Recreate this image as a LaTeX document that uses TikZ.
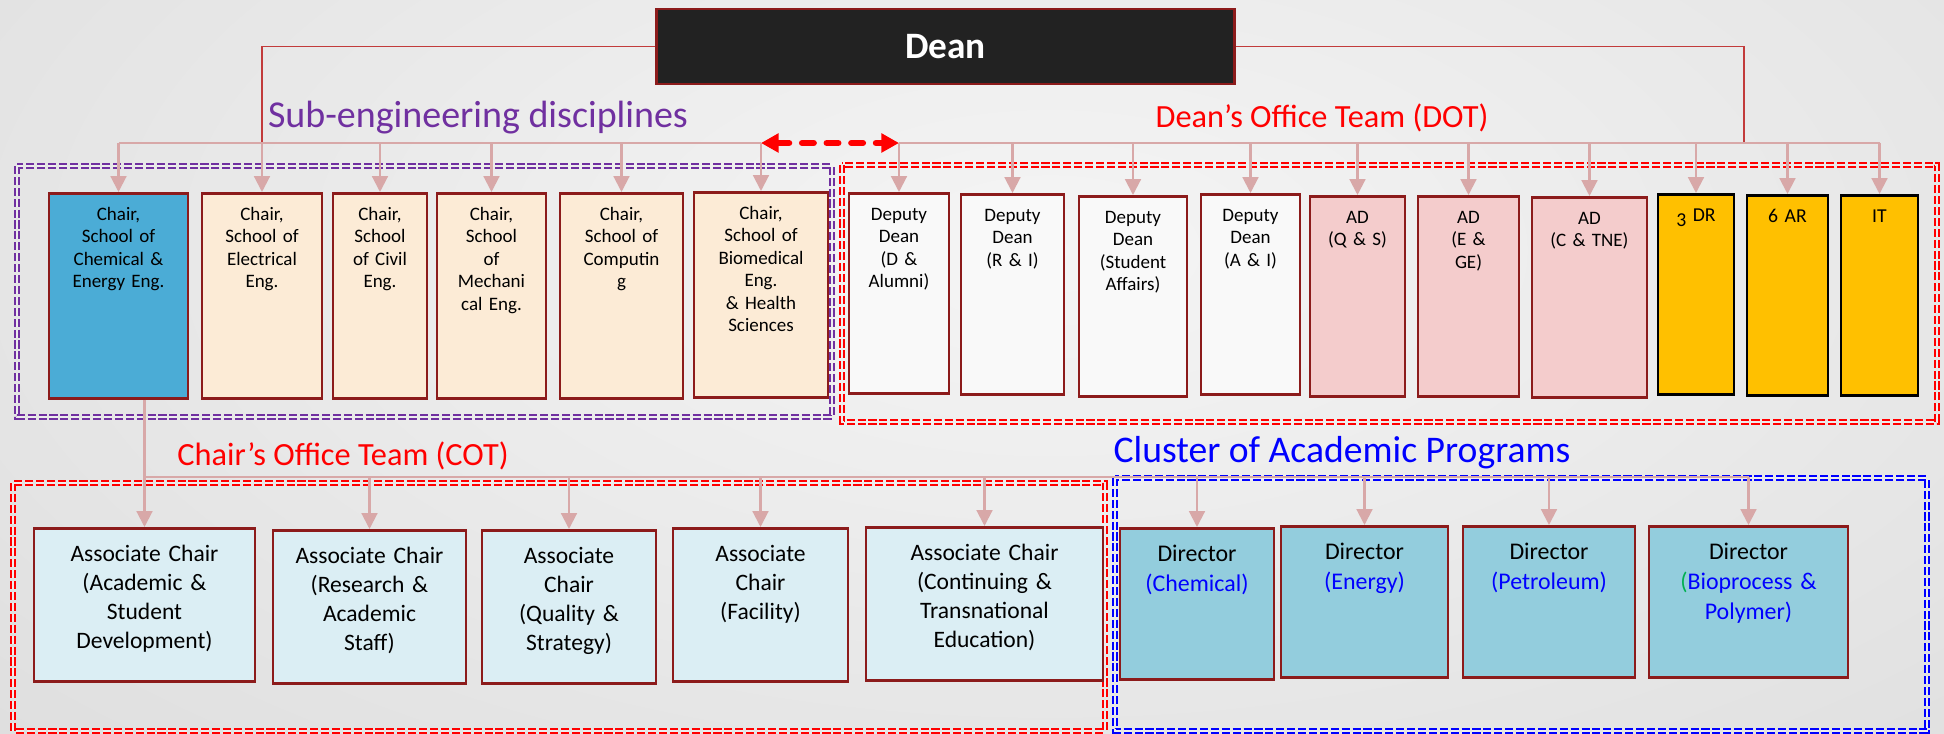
\documentclass[tikz,border=0pt]{standalone}
\usepackage{fontspec}
\setmainfont{Carlito}
\usetikzlibrary{arrows.meta}
\usetikzlibrary{positioning}

\definecolor{boxred}{HTML}{8C1B1B}
\definecolor{deanred}{HTML}{C23B3B}
\definecolor{deanblack}{HTML}{222222}
\definecolor{linkpink}{HTML}{D8A8A8}
\definecolor{chemblue}{HTML}{4BACD6}
\definecolor{cream}{HTML}{FCEBD6}
\definecolor{ddwhite}{HTML}{F9F9F9}
\definecolor{adpink}{HTML}{F4CCCC}
\definecolor{staffgold}{HTML}{FFC000}
\definecolor{acblue}{HTML}{DBEEF4}
\definecolor{dirblue}{HTML}{93CDDD}
\definecolor{grppurple}{HTML}{7030A0}
\definecolor{progblue}{HTML}{0000FF}
\definecolor{parengreen}{HTML}{00B050}

\begin{document}
\begin{tikzpicture}[
    x=0.01cm, y=-0.01cm,
    font=\fontsize{5.4}{6.4}\selectfont
]
\tikzset{
    bw/.style = {minimum width=#1, text width=#1},
    chairbox/.style = {draw=boxred, line width=0.8pt, anchor=north, inner sep=0pt, align=center, text height=0.27cm, text depth=1.78cm},
    dotbox/.style = {chairbox, text depth=1.73cm},
    staffbox/.style = {dotbox, draw=black, fill=staffgold, font=\fontsize{5.6}{6.6}\selectfont},
    acbox/.style = {chairbox, fill=acblue, text height=0.33cm, text depth=1.2cm, font=\fontsize{6.7}{8.3}\selectfont},
    dirbox/.style = {acbox, fill=dirblue, text depth=1.18cm, font=\fontsize{6.8}{8.5}\selectfont},
    busline/.style = {linkpink, line width=0.6pt},
    busarrow/.style = {busline, -{Triangle[length=4.5pt,width=4.5pt]}},
    deanline/.style = {deanred, line width=0.45pt},
    linkarrow/.style = {red, line width=1.8pt, dash pattern=on 3.3pt off 3.7pt, line cap=round, {Triangle[length=5pt,width=5.2pt]}-{Triangle[length=5pt,width=5.2pt]}},
    grpbox/.style = {draw=#1, line width=0.62pt, double=white!93!black, double distance=0.4pt, dash pattern=on 2.3pt off 0.8pt},
    grptitle/.style = {anchor=base, inner sep=0pt}
}
% background
\begin{scope}
\clip (0,0) rectangle (1944,734);
\shade[inner color=black!4, outer color=black!13] (-450,-500) rectangle (2550,1000);
\end{scope}
\useasboundingbox (0,0) rectangle (1944,734);

% group frames
\draw[grpbox=grppurple] (17,166) rectangle (832,417);
\draw[grpbox=red] (842,165) rectangle (1937,422);
\draw[grpbox=red] (13,483) rectangle (1105,731);
\draw[grpbox=progblue] (1115,478) rectangle (1927,731);

\node[grptitle, text=grppurple, font=\fontsize{10.8}{13}\selectfont] at (478,128) (subtitle) {Sub-engineering disciplines};
\node[grptitle, text=red, font=\fontsize{9.2}{11}\selectfont] at (1322,128) (dottitle) {Dean’s Office Team (DOT)};
\node[grptitle, text=red, font=\fontsize{9.2}{11}\selectfont] at (343,466) (cottitle) {Chair’s Office Team (COT)};
\node[grptitle, text=progblue, font=\fontsize{10.7}{13}\selectfont] at (1342,463) (clustitle) {Cluster of Academic Programs};

% dean
\node[draw=boxred, line width=0.8pt, fill=deanblack, text=white, minimum width=5.77cm, minimum height=0.75cm, font=\fontsize{10.6}{12}\selectfont\bfseries] at (945.5,46.5) (dean) {Dean};

% schools
\node[chairbox, bw=1.39cm, fill=chemblue] at (118.5,192) (chem) {Chair,\\ School of\\ Chemical \&\\ Energy Eng.};
\node[chairbox, bw=1.20cm, fill=cream] at (262,192) (elec) {Chair,\\ School of\\ Electrical\\ Eng.};
\node[chairbox, bw=0.94cm, fill=cream] at (380,192) (civil) {Chair,\\ School\\ of Civil\\ Eng.};
\node[chairbox, bw=1.09cm, fill=cream] at (491.5,192) (mech) {Chair,\\ School\\ of\\ Mechani\\ cal Eng.};
\node[chairbox, bw=1.23cm, fill=cream] at (621.5,192) (comp) {Chair,\\ School of\\ Computin\\ g};
\node[chairbox, bw=1.34cm, fill=cream] at (761,191) (biomed) {Chair,\\ School of\\ Biomedical\\ Eng.\\ \& Health\\ Sciences};

% dean's office team
\node[dotbox, bw=1.00cm, fill=ddwhite] at (899,192) (ddalum) {Deputy\\ Dean\\ (D \&\\ Alumni)};
\node[dotbox, bw=1.03cm, fill=ddwhite] at (1012.5,193) (ddri) {Deputy\\ Dean\\ (R \& I)};
\node[dotbox, bw=1.08cm, fill=ddwhite] at (1133,195) (ddsa) {Deputy\\ Dean\\ (Student\\ Affairs)};
\node[dotbox, bw=0.99cm, fill=ddwhite] at (1250.5,193) (ddai) {Deputy\\ Dean\\ (A \& I)};
\node[dotbox, bw=0.95cm, fill=adpink] at (1357.5,195) (adqs) {AD\\ (Q \& S)};
\node[dotbox, bw=1.01cm, fill=adpink] at (1468.5,195) (adege) {AD\\ (E \&\\ GE)};
\node[dotbox, bw=1.15cm, fill=adpink] at (1589.5,196) (adctne) {AD\\ (C \& TNE)};
\node[staffbox, bw=0.76cm] at (1696,193) (dr) {\raisebox{-0.5ex}{3} DR};
\node[staffbox, bw=0.81cm] at (1787.5,194) (ar) {6 AR};
\node[staffbox, bw=0.77cm] at (1879.5,194) (it) {IT};

% chair's office team
\node[acbox, bw=2.21cm] at (144.5,527) (acasd) {Associate Chair\\ (Academic \&\\ Student\\ Development)};
\node[acbox, bw=1.93cm] at (369.5,529) (acras) {Associate Chair\\ (Research \&\\ Academic\\ Staff)};
\node[acbox, bw=1.74cm] at (569,529) (acqs) {Associate\\ Chair\\ (Quality \&\\ Strategy)};
\node[acbox, bw=1.75cm] at (760.5,527) (acfac) {Associate\\ Chair\\ (Facility)};
\node[acbox, bw=2.37cm] at (984.5,526) (acte) {Associate Chair\\ (Continuing \&\\ Transnational\\ Education)};

% programme directors
\node[dirbox, bw=1.54cm] at (1197,527) (dchem) {Director\\ \textcolor{progblue}{(Chemical)}};
\node[dirbox, bw=1.67cm] at (1364.5,525) (denergy) {Director\\ \textcolor{progblue}{(Energy)}};
\node[dirbox, bw=1.72cm] at (1549,525) (dpetro) {Director\\ \textcolor{progblue}{(Petroleum)}};
\node[dirbox, bw=1.99cm] at (1748.5,525) (dbio) {Director\\ \textcolor{parengreen}{(}\textcolor{progblue}{Bioprocess \&}\\ \textcolor{progblue}{Polymer)}};

% connectors
\coordinate (lbus) at (0,143);
\coordinate (lowbus) at (0,477);
\coordinate (rdrop) at (1744,143);
\draw[deanline] (dean.west) -| (elec.north |- lbus);
\draw[deanline] (dean.east) -| (rdrop);
\draw[busline] (chem.north |- lbus) -- (biomed.north |- lbus);
\draw[busline] (ddalum.north |- lbus) -- (it.north |- lbus);
\foreach \n in {chem,elec,civil,mech,comp,biomed,ddalum,ddri,ddsa,ddai,adqs,adege,adctne,dr,ar,it}
    \draw[busarrow] (\n.north |- lbus) -- (\n.north);
\draw[linkarrow] (biomed.north |- lbus) -- (ddalum.north |- lbus);
\draw[busline] (chem.south -| acasd.north) -- (acasd.north |- lowbus) -- (dbio.north |- lowbus);
\foreach \n in {acasd,acras,acqs,acfac,acte,dchem,denergy,dpetro,dbio}
    \draw[busarrow] (\n.north |- lowbus) -- (\n.north);
\end{tikzpicture}
\end{document}
